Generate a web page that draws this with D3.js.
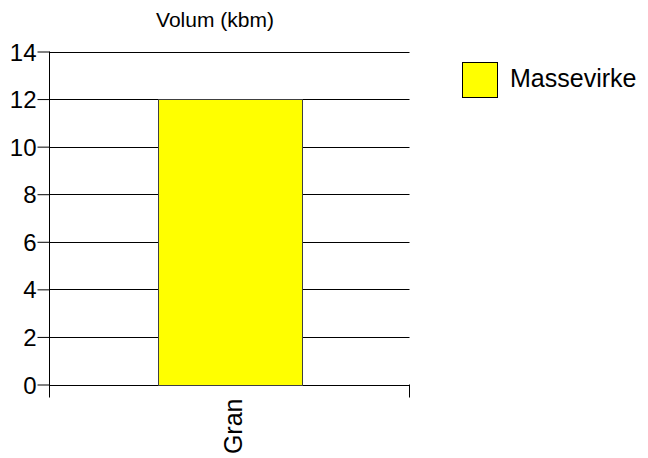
<!DOCTYPE html>
<html><head><meta charset="utf-8">
<script src="https://cdn.jsdelivr.net/npm/d3@7"></script>
<style>body{margin:0;background:#fff}svg{display:block}text{font-family:"Liberation Sans",Arial,sans-serif;fill:#000}</style>
</head><body>
<script>
const categories = ["Gran"];
const seriesName = "Massevirke";
const values = [12];
const yTicks = [0, 2, 4, 6, 8, 10, 12, 14];
const chartTitle = "Volum (kbm)";

(function () {
const W = 648, H = 458;
const mL = 49.5, mR = 409.5, mT = 51.5, mB = 384.5;
const svg = d3.select("body").append("svg").attr("width", W).attr("height", H);

const x = d3.scaleBand().domain(categories).range([mL, mR]).paddingInner(0.6).paddingOuter(0.3);
const y = d3.scaleLinear().domain([0, 14]).range([mB, mT]);

// gridlines
svg.append("g").selectAll("line").data(yTicks).join("line")
  .attr("x1", mL).attr("x2", mR)
  .attr("y1", d => Math.round(y(d)) + 0.5).attr("y2", d => Math.round(y(d)) + 0.5)
  .attr("stroke", "#000").attr("stroke-width", 1);

// bars
svg.append("g").selectAll("rect").data(values).join("rect")
  .attr("x", (d, i) => Math.round(x(categories[i])) + 0.5)
  .attr("width", x.bandwidth())
  .attr("y", d => Math.round(y(d)) + 0.5)
  .attr("height", d => Math.round(y(0)) - Math.round(y(d)))
  .attr("fill", "#ffff00").attr("stroke", "#404040").attr("stroke-width", 1);

// y axis
const yAxis = d3.axisLeft(y).tickValues(yTicks).tickSize(12).tickPadding(1).tickFormat(d3.format("d"));
const gy = svg.append("g").attr("transform", `translate(${mL},0)`).call(yAxis);
gy.select(".domain").remove();
gy.selectAll(".tick line").attr("stroke", "#000");
gy.selectAll(".tick text").style("font-size", "24px").attr("font-family", null).attr("dy", "0.36em");
svg.append("line").attr("x1", mL).attr("x2", mL).attr("y1", mT).attr("y2", mB + 13).attr("stroke", "#000");
svg.append("line").attr("x1", mR).attr("x2", mR).attr("y1", mB).attr("y2", mB + 13).attr("stroke", "#000");

// x labels
svg.append("g").selectAll("text").data(categories).join("text")
  .attr("transform", d => `translate(${x(d) + x.bandwidth() / 2 + 12},${mB + 14}) rotate(-90)`)
  .attr("text-anchor", "end")
  .style("font-size", "25px")
  .text(d => d);

// title
svg.append("text").attr("x", 215).attr("y", 27).attr("text-anchor", "middle").style("font-size", "21px").text(chartTitle);

// legend
svg.append("rect").attr("x", 462.5).attr("y", 62.5).attr("width", 35).attr("height", 35)
  .attr("fill", "#ffff00").attr("stroke", "#000");
svg.append("text").attr("x", 510).attr("y", 87).style("font-size", "25px").text(seriesName);
})();
</script>
</body></html>
